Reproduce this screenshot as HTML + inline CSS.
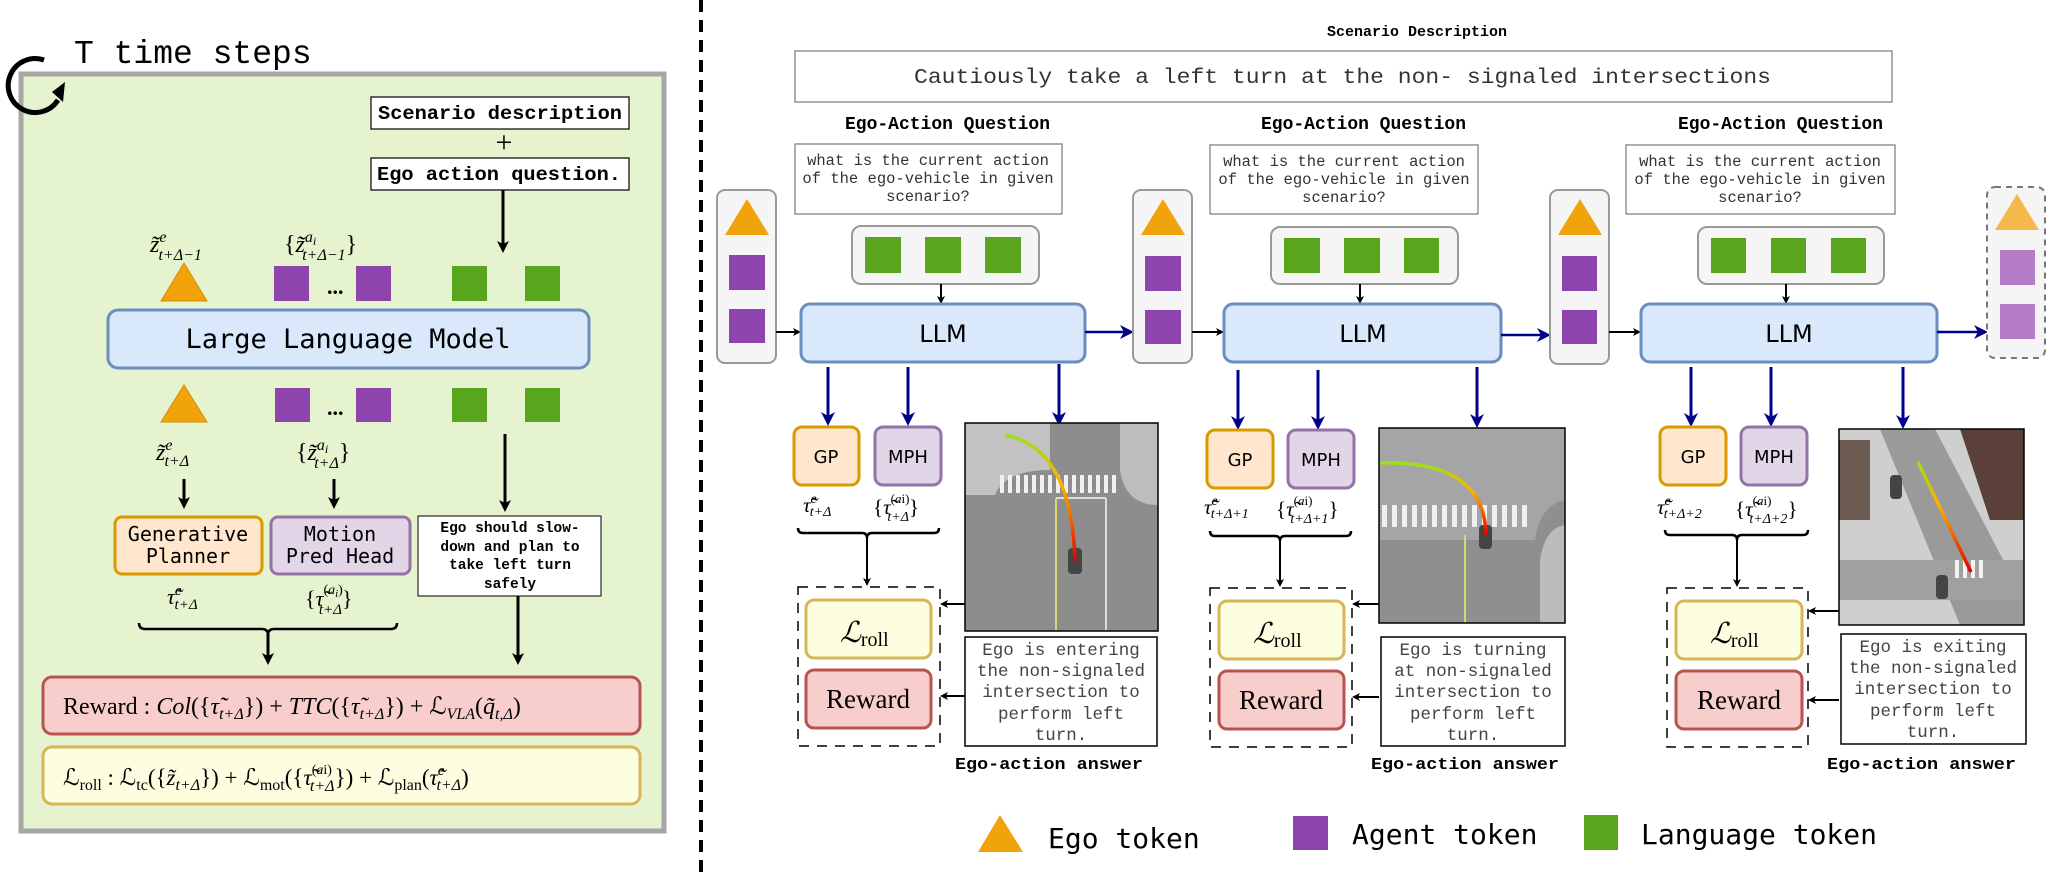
<!DOCTYPE html>
<html><head><meta charset="utf-8"><style>
html,body{margin:0;padding:0;background:#fff;}
svg{display:block;}
.mono{font-family:"DejaVu Sans Mono","Liberation Mono",monospace;}
.lm{font-family:"Liberation Mono","DejaVu Sans Mono",monospace;}
.sans{font-family:"DejaVu Sans","Liberation Sans",sans-serif;}
.ser{font-family:"Liberation Serif","DejaVu Serif",serif;}
</style></head><body>
<svg width="2048" height="878" viewBox="0 0 2048 878" xmlns="http://www.w3.org/2000/svg">
<defs>
<marker id="ab" markerWidth="8" markerHeight="8" refX="6" refY="4" orient="auto" markerUnits="userSpaceOnUse"><path d="M0,0 L8,4 L0,8 L2,4 z" fill="#000"/></marker>
<marker id="abl" markerWidth="12" markerHeight="12" refX="9" refY="6" orient="auto" markerUnits="userSpaceOnUse"><path d="M0,0 L12,6 L0,12 L3,6 z" fill="#000"/></marker>
<marker id="an" markerWidth="14" markerHeight="14" refX="10" refY="7" orient="auto" markerUnits="userSpaceOnUse"><path d="M0,0 L14,7 L0,14 L4,7 z" fill="#00008b"/></marker>
<linearGradient id="traj" x1="0" y1="0" x2="0" y2="1"><stop offset="0" stop-color="#9be01a"/><stop offset="0.4" stop-color="#ffb000"/><stop offset="1" stop-color="#e00000"/></linearGradient>
<clipPath id="c1"><rect x="965" y="423" width="193" height="208"/></clipPath>
<clipPath id="c2"><rect x="1379" y="428" width="186" height="195"/></clipPath>
<clipPath id="c3"><rect x="1839" y="429" width="185" height="196"/></clipPath>
</defs>

<!-- LEFT PANEL -->
<rect x="21" y="74" width="643" height="757" fill="#e6f3cf" stroke="#a6a6a6" stroke-width="5"/>
<path d="M44,60 A27,27 0 1 0 58,100" fill="none" stroke="#000" stroke-width="5"/>
<path d="M52,92 L65,82 L63,102 z" fill="#000"/>
<text x="74" y="63" class="lm" font-size="33">T time steps</text>

<rect x="371" y="97" width="258" height="32" fill="#fff" stroke="#000" stroke-width="1.2"/>
<text x="378" y="119" class="lm" font-size="19" font-weight="bold" textLength="244" lengthAdjust="spacingAndGlyphs">Scenario description</text>
<text x="504" y="152" class="ser" font-size="30" text-anchor="middle">+</text>
<rect x="371" y="158" width="258" height="32" fill="#fff" stroke="#000" stroke-width="1.2"/>
<text x="377" y="180" class="lm" font-size="19" font-weight="bold" textLength="244" lengthAdjust="spacingAndGlyphs">Ego action question.</text>
<line x1="503" y1="190" x2="503" y2="250" stroke="#000" stroke-width="3" marker-end="url(#abl)"/>

<text x="150" y="252" class="ser" font-size="24" font-style="italic">z̃<tspan font-size="16" dy="-10">e</tspan><tspan font-size="16" dx="-8" dy="18">t+Δ−1</tspan></text>
<text x="284" y="252" class="ser" font-size="24">{<tspan font-style="italic">z̃</tspan><tspan font-size="16" font-style="italic" dy="-10">a<tspan font-size="12" dy="3">i</tspan></tspan><tspan font-size="16" font-style="italic" dx="-14" dy="15">t+Δ−1</tspan><tspan dy="-8">}</tspan></text>
<polygon points="184,263 207,301 161,301" fill="#f0a30a" stroke="#d68f00" stroke-width="1"/>
<rect x="274" y="266" width="35" height="35" fill="#8e44ad"/>
<text x="327" y="294" class="ser" font-size="22" font-weight="bold">...</text>
<rect x="356" y="266" width="35" height="35" fill="#8e44ad"/>
<rect x="452" y="266" width="35" height="35" fill="#5aa51e"/>
<rect x="525" y="266" width="35" height="35" fill="#5aa51e"/>

<rect x="108" y="310" width="481" height="58" rx="10" fill="#dae8fc" stroke="#6c8ebf" stroke-width="3"/>
<text x="348" y="348" class="mono" font-size="27" text-anchor="middle">Large Language Model</text>

<polygon points="184,385 207,422 161,422" fill="#f0a30a" stroke="#d68f00" stroke-width="1"/>
<rect x="275" y="388" width="35" height="34" fill="#8e44ad"/>
<text x="327" y="415" class="ser" font-size="22" font-weight="bold">...</text>
<rect x="356" y="388" width="35" height="34" fill="#8e44ad"/>
<rect x="452" y="388" width="35" height="34" fill="#5aa51e"/>
<rect x="525" y="388" width="35" height="34" fill="#5aa51e"/>

<text x="156" y="460" class="ser" font-size="24" font-style="italic">z̃<tspan font-size="16" dy="-10">e</tspan><tspan font-size="16" dx="-8" dy="16">t+Δ</tspan></text>
<text x="296" y="460" class="ser" font-size="24">{<tspan font-style="italic">z̃</tspan><tspan font-size="16" font-style="italic" dy="-10">a<tspan font-size="12" dy="3">i</tspan></tspan><tspan font-size="16" font-style="italic" dx="-14" dy="15">t+Δ</tspan><tspan dy="-8">}</tspan></text>
<line x1="184" y1="479" x2="184" y2="506" stroke="#000" stroke-width="3" marker-end="url(#abl)"/>
<line x1="334" y1="479" x2="334" y2="506" stroke="#000" stroke-width="3" marker-end="url(#abl)"/>
<line x1="505" y1="434" x2="505" y2="509" stroke="#000" stroke-width="3" marker-end="url(#abl)"/>

<rect x="115" y="517" width="147" height="57" rx="7" fill="#ffe6cc" stroke="#d79b00" stroke-width="3"/>
<text x="188" y="541" class="mono" font-size="20" text-anchor="middle">Generative</text>
<text x="188" y="563" class="mono" font-size="20" text-anchor="middle">Planner</text>
<rect x="271" y="517" width="139" height="57" rx="7" fill="#e1d5e7" stroke="#9673a6" stroke-width="3"/>
<text x="340" y="541" class="mono" font-size="20" text-anchor="middle">Motion</text>
<text x="340" y="563" class="mono" font-size="20" text-anchor="middle">Pred Head</text>
<rect x="418" y="516" width="183" height="80" fill="#fff" stroke="#000" stroke-width="1"/>
<text class="lm" font-size="14.5" font-weight="bold" text-anchor="middle"><tspan x="510" y="532">Ego should slow-</tspan><tspan x="510" y="551">down and plan to</tspan><tspan x="510" y="569">take left turn</tspan><tspan x="510" y="588">safely</tspan></text>

<text x="167" y="604" class="ser" font-size="22" font-style="italic">τ̃<tspan font-size="15" dy="-9">e</tspan><tspan font-size="15" dx="-7" dy="14">t+Δ</tspan></text>
<text x="305" y="606" class="ser" font-size="22">{<tspan font-style="italic">τ̃</tspan><tspan font-size="14" dy="-12">(<tspan font-style="italic">a<tspan font-size="11" dy="3">i</tspan></tspan><tspan dy="-3">)</tspan></tspan><tspan font-size="15" font-style="italic" dx="-24" dy="20">t+Δ</tspan><tspan dy="-8">}</tspan></text>
<path d="M139,623 q0,6 6,6 H262 q6,0 6,6 q0,-6 6,-6 H391 q6,0 6,-6" fill="none" stroke="#000" stroke-width="2.5"/>
<line x1="268" y1="634" x2="268" y2="662" stroke="#000" stroke-width="3" marker-end="url(#abl)"/>
<line x1="518" y1="596" x2="518" y2="662" stroke="#000" stroke-width="3" marker-end="url(#abl)"/>

<rect x="43" y="677" width="597" height="57" rx="9" fill="#f8cecc" stroke="#b85450" stroke-width="3"/>
<text x="63" y="714" class="ser" font-size="24">Reward : <tspan font-style="italic">Col</tspan>({<tspan font-style="italic">τ̃</tspan><tspan font-size="16" font-style="italic" dy="5">t+Δ</tspan><tspan dy="-5">}) + </tspan><tspan font-style="italic">TTC</tspan>({<tspan font-style="italic">τ̃</tspan><tspan font-size="16" font-style="italic" dy="5">t+Δ</tspan><tspan dy="-5">}) + ℒ</tspan><tspan font-size="16" font-style="italic" dy="5">VLA</tspan><tspan dy="-5">(</tspan><tspan font-style="italic">q̃</tspan><tspan font-size="16" font-style="italic" dy="5">t,Δ</tspan><tspan dy="-5">)</tspan></text>
<rect x="43" y="747" width="597" height="57" rx="9" fill="#fdfde0" stroke="#d6b656" stroke-width="3"/>
<text x="63" y="785" class="ser" font-size="23">ℒ<tspan font-size="16" dy="5">roll</tspan><tspan dy="-5"> : ℒ</tspan><tspan font-size="16" dy="5">tc</tspan><tspan dy="-5">({</tspan><tspan font-style="italic">z̃</tspan><tspan font-size="16" font-style="italic" dy="5">t+Δ</tspan><tspan dy="-5">}) + ℒ</tspan><tspan font-size="16" dy="5">mot</tspan><tspan dy="-5">({</tspan><tspan font-style="italic">τ̃</tspan><tspan font-size="14" dy="-11">(<tspan font-style="italic">a</tspan>i)</tspan><tspan font-size="16" font-style="italic" dx="-22" dy="17">t+Δ</tspan><tspan dy="-6">}) + ℒ</tspan><tspan font-size="16" dy="5">plan</tspan><tspan dy="-5">(</tspan><tspan font-style="italic">τ̃</tspan><tspan font-size="15" font-style="italic" dy="-10">e</tspan><tspan font-size="16" font-style="italic" dx="-8" dy="15">t+Δ</tspan><tspan dy="-5">)</tspan></text>

<!-- divider -->
<line x1="701" y1="0" x2="701" y2="878" stroke="#000" stroke-width="4" stroke-dasharray="12,8"/>

<!-- RIGHT PANEL -->
<text x="1417" y="36" class="lm" font-size="15" font-weight="bold" text-anchor="middle">Scenario Description</text>
<rect x="795" y="51" width="1097" height="51" fill="#fff" stroke="#777" stroke-width="1.2"/>
<text x="914" y="83" class="lm" font-size="21" fill="#333" textLength="857" lengthAdjust="spacingAndGlyphs">Cautiously take a left turn at the non- signaled intersections</text>

<!-- Column 1 -->
<text x="845" y="129" class="lm" font-size="18" font-weight="bold" textLength="205" lengthAdjust="spacingAndGlyphs">Ego-Action Question</text>
<rect x="795" y="144" width="267" height="70" fill="#fff" stroke="#777" stroke-width="1.2"/>
<text class="lm" font-size="15.5" fill="#333" text-anchor="middle"><tspan x="928" y="165">what is the current action</tspan><tspan x="928" y="183">of the ego-vehicle in given</tspan><tspan x="928" y="201">scenario?</tspan></text>
<rect x="852" y="226" width="187" height="58" rx="9" fill="#f5f5f5" stroke="#999" stroke-width="2"/>
<rect x="865" y="237" width="36" height="36" fill="#5aa51e"/><rect x="925" y="237" width="36" height="36" fill="#5aa51e"/><rect x="985" y="237" width="36" height="36" fill="#5aa51e"/>
<line x1="941" y1="284" x2="941" y2="302" stroke="#000" stroke-width="2" marker-end="url(#ab)"/>

<rect x="717" y="190" width="59" height="173" rx="8" fill="#f5f5f5" stroke="#999" stroke-width="2"/>
<polygon points="747,199 769,235 725,235" fill="#f0a30a"/>
<rect x="729" y="255" width="36" height="35" fill="#8e44ad"/><rect x="729" y="309" width="36" height="34" fill="#8e44ad"/>
<line x1="776" y1="332" x2="799" y2="332" stroke="#000" stroke-width="2" marker-end="url(#ab)"/>

<rect x="801" y="304" width="284" height="58" rx="9" fill="#dae8fc" stroke="#6c8ebf" stroke-width="3"/>
<text x="943" y="342" class="sans" font-size="24" text-anchor="middle">LLM</text>
<line x1="1085" y1="332" x2="1130" y2="332" stroke="#00008b" stroke-width="2.5" marker-end="url(#an)"/>

<line x1="828" y1="367" x2="828" y2="422" stroke="#00008b" stroke-width="3" marker-end="url(#an)"/>
<line x1="908" y1="367" x2="908" y2="422" stroke="#00008b" stroke-width="3" marker-end="url(#an)"/>
<line x1="1059" y1="364" x2="1059" y2="422" stroke="#00008b" stroke-width="3" marker-end="url(#an)"/>

<rect x="794" y="427" width="65" height="58" rx="8" fill="#ffe6cc" stroke="#d79b00" stroke-width="3"/>
<text x="826" y="463" class="sans" font-size="18" text-anchor="middle">GP</text>
<rect x="875" y="427" width="66" height="58" rx="8" fill="#e1d5e7" stroke="#9673a6" stroke-width="3"/>
<text x="908" y="463" class="sans" font-size="18" text-anchor="middle">MPH</text>
<text x="803" y="512" class="ser" font-size="21" font-style="italic">τ̃<tspan font-size="14" dy="-9">e</tspan><tspan font-size="14" dx="-7" dy="13">t+Δ</tspan></text>
<text x="873" y="514" class="ser" font-size="21">{<tspan font-style="italic">τ̃</tspan><tspan font-size="13" dy="-11">(<tspan font-style="italic">a</tspan>i)</tspan><tspan font-size="14" font-style="italic" dx="-22" dy="18">t+Δ</tspan><tspan dy="-7">}</tspan></text>
<path d="M798,528 q0,5 5,5 H862 q5,0 5,5 q0,-5 5,-5 H934 q5,0 5,-5" fill="none" stroke="#000" stroke-width="2.5"/>
<line x1="867" y1="538" x2="867" y2="584" stroke="#000" stroke-width="2" marker-end="url(#ab)"/>
<rect x="798" y="587" width="142" height="159" fill="none" stroke="#000" stroke-width="1.5" stroke-dasharray="10,8"/>
<rect x="806" y="600" width="125" height="58" rx="8" fill="#fdfde0" stroke="#d6b656" stroke-width="3"/>
<text x="840" y="642" class="ser" font-size="29" font-style="italic">ℒ<tspan font-size="20" font-style="normal" dy="4">roll</tspan></text>
<rect x="806" y="670" width="125" height="58" rx="8" fill="#f8cecc" stroke="#b85450" stroke-width="3"/>
<text x="868" y="708" class="ser" font-size="27" text-anchor="middle">Reward</text>

<g clip-path="url(#c1)">
<rect x="965" y="423" width="193" height="208" fill="#8d8d8d"/>
<path d="M965,423 H1050 V470 Q1005,470 995,495 H965z" fill="#c2c2c2"/>
<path d="M1158,423 V505 Q1125,505 1120,470 V423z" fill="#bdbdbd"/>
<g fill="#f0f0f0"><rect x="1000" y="475" width="4" height="18"/><rect x="1008" y="475" width="4" height="18"/><rect x="1016" y="475" width="4" height="18"/><rect x="1024" y="475" width="4" height="18"/><rect x="1032" y="475" width="4" height="18"/><rect x="1040" y="475" width="4" height="18"/><rect x="1048" y="475" width="4" height="18"/><rect x="1056" y="475" width="4" height="18"/><rect x="1064" y="475" width="4" height="18"/><rect x="1072" y="475" width="4" height="18"/><rect x="1080" y="475" width="4" height="18"/><rect x="1088" y="475" width="4" height="18"/><rect x="1096" y="475" width="4" height="18"/><rect x="1104" y="475" width="4" height="18"/><rect x="1112" y="475" width="4" height="18"/></g>
<line x1="1056" y1="498" x2="1056" y2="631" stroke="#d8d870" stroke-width="2"/>
<line x1="1106" y1="498" x2="1106" y2="631" stroke="#ddd" stroke-width="2"/>
<line x1="1056" y1="498" x2="1106" y2="498" stroke="#ddd" stroke-width="2"/>
<rect x="1068" y="548" width="14" height="26" rx="4" fill="#444"/>
<path d="M1005,435 Q1072,448 1075,562" fill="none" stroke="url(#traj)" stroke-width="3.5"/>
</g>
<rect x="965" y="423" width="193" height="208" fill="none" stroke="#000" stroke-width="1.5"/>
<line x1="965" y1="604" x2="942" y2="604" stroke="#000" stroke-width="2" marker-end="url(#ab)"/>
<line x1="965" y1="696" x2="942" y2="696" stroke="#000" stroke-width="2" marker-end="url(#ab)"/>
<rect x="965" y="637" width="192" height="109" fill="#fff" stroke="#000" stroke-width="1.5"/>
<text class="lm" font-size="17.5" fill="#444" text-anchor="middle"><tspan x="1061" y="655">Ego is entering</tspan><tspan x="1061" y="676">the non-signaled</tspan><tspan x="1061" y="697">intersection to</tspan><tspan x="1061" y="719">perform left</tspan><tspan x="1061" y="740">turn.</tspan></text>
<text x="955" y="769" class="lm" font-size="17" font-weight="bold" textLength="188" lengthAdjust="spacingAndGlyphs">Ego-action answer</text>

<!-- Column 2 -->
<rect x="1133" y="190" width="59" height="173" rx="8" fill="#f5f5f5" stroke="#999" stroke-width="2"/>
<polygon points="1163,199 1185,235 1141,235" fill="#f0a30a"/>
<rect x="1145" y="256" width="36" height="35" fill="#8e44ad"/><rect x="1145" y="310" width="36" height="34" fill="#8e44ad"/>
<line x1="1192" y1="332" x2="1222" y2="332" stroke="#000" stroke-width="2" marker-end="url(#ab)"/>

<text x="1261" y="129" class="lm" font-size="18" font-weight="bold" textLength="205" lengthAdjust="spacingAndGlyphs">Ego-Action Question</text>
<rect x="1210" y="145" width="268" height="69" fill="#fff" stroke="#777" stroke-width="1.2"/>
<text class="lm" font-size="15.5" fill="#333" text-anchor="middle"><tspan x="1344" y="166">what is the current action</tspan><tspan x="1344" y="184">of the ego-vehicle in given</tspan><tspan x="1344" y="202">scenario?</tspan></text>
<rect x="1271" y="227" width="187" height="57" rx="9" fill="#f5f5f5" stroke="#999" stroke-width="2"/>
<rect x="1284" y="238" width="36" height="35" fill="#5aa51e"/><rect x="1344" y="238" width="36" height="35" fill="#5aa51e"/><rect x="1404" y="238" width="35" height="35" fill="#5aa51e"/>
<line x1="1360" y1="284" x2="1360" y2="302" stroke="#000" stroke-width="2" marker-end="url(#ab)"/>
<rect x="1224" y="304" width="277" height="58" rx="9" fill="#dae8fc" stroke="#6c8ebf" stroke-width="3"/>
<text x="1363" y="342" class="sans" font-size="24" text-anchor="middle">LLM</text>
<line x1="1501" y1="335" x2="1547" y2="335" stroke="#00008b" stroke-width="2.5" marker-end="url(#an)"/>
<line x1="1238" y1="370" x2="1238" y2="426" stroke="#00008b" stroke-width="3" marker-end="url(#an)"/>
<line x1="1318" y1="370" x2="1318" y2="426" stroke="#00008b" stroke-width="3" marker-end="url(#an)"/>
<line x1="1477" y1="367" x2="1477" y2="424" stroke="#00008b" stroke-width="3" marker-end="url(#an)"/>

<rect x="1207" y="430" width="66" height="58" rx="8" fill="#ffe6cc" stroke="#d79b00" stroke-width="3"/>
<text x="1240" y="466" class="sans" font-size="18" text-anchor="middle">GP</text>
<rect x="1288" y="430" width="66" height="58" rx="8" fill="#e1d5e7" stroke="#9673a6" stroke-width="3"/>
<text x="1321" y="466" class="sans" font-size="18" text-anchor="middle">MPH</text>
<text x="1204" y="514" class="ser" font-size="21" font-style="italic">τ̃<tspan font-size="14" dy="-9">e</tspan><tspan font-size="14" dx="-7" dy="13">t+Δ+1</tspan></text>
<text x="1276" y="516" class="ser" font-size="21">{<tspan font-style="italic">τ̃</tspan><tspan font-size="13" dy="-11">(<tspan font-style="italic">a</tspan>i)</tspan><tspan font-size="14" font-style="italic" dx="-22" dy="18">t+Δ+1</tspan><tspan dy="-7">}</tspan></text>
<path d="M1210,531 q0,5 5,5 H1275 q5,0 5,5 q0,-5 5,-5 H1346 q5,0 5,-5" fill="none" stroke="#000" stroke-width="2.5"/>
<line x1="1280" y1="541" x2="1280" y2="585" stroke="#000" stroke-width="2" marker-end="url(#ab)"/>
<rect x="1210" y="588" width="142" height="159" fill="none" stroke="#000" stroke-width="1.5" stroke-dasharray="10,8"/>
<rect x="1219" y="601" width="125" height="58" rx="8" fill="#fdfde0" stroke="#d6b656" stroke-width="3"/>
<text x="1253" y="643" class="ser" font-size="29" font-style="italic">ℒ<tspan font-size="20" font-style="normal" dy="4">roll</tspan></text>
<rect x="1219" y="671" width="125" height="58" rx="8" fill="#f8cecc" stroke="#b85450" stroke-width="3"/>
<text x="1281" y="709" class="ser" font-size="27" text-anchor="middle">Reward</text>

<g clip-path="url(#c2)">
<rect x="1379" y="428" width="186" height="195" fill="#8f8f8f"/>
<path d="M1379,428 H1565 V500 Q1540,505 1535,540 H1379z" fill="#a5a5a5"/>
<path d="M1565,525 Q1545,528 1540,560 V623 H1565z" fill="#bcbcbc"/>
<g fill="#f0f0f0"><rect x="1382" y="505" width="5" height="22"/><rect x="1392" y="505" width="5" height="22"/><rect x="1402" y="505" width="5" height="22"/><rect x="1412" y="505" width="5" height="22"/><rect x="1422" y="505" width="5" height="22"/><rect x="1432" y="505" width="5" height="22"/><rect x="1442" y="505" width="5" height="22"/><rect x="1452" y="505" width="5" height="22"/><rect x="1462" y="505" width="5" height="22"/><rect x="1472" y="505" width="5" height="22"/><rect x="1482" y="505" width="5" height="22"/><rect x="1492" y="505" width="5" height="22"/><rect x="1502" y="505" width="5" height="22"/><rect x="1512" y="505" width="5" height="22"/><rect x="1522" y="505" width="5" height="22"/></g>
<line x1="1465" y1="535" x2="1465" y2="623" stroke="#d8d870" stroke-width="2"/>
<rect x="1479" y="525" width="13" height="24" rx="4" fill="#444"/>
<path d="M1380,463 Q1485,460 1486,535" fill="none" stroke="url(#traj)" stroke-width="3.5"/>
</g>
<rect x="1379" y="428" width="186" height="195" fill="none" stroke="#000" stroke-width="1.5"/>
<line x1="1379" y1="604" x2="1354" y2="604" stroke="#000" stroke-width="2" marker-end="url(#ab)"/>
<line x1="1379" y1="697" x2="1354" y2="697" stroke="#000" stroke-width="2" marker-end="url(#ab)"/>
<rect x="1381" y="637" width="184" height="109" fill="#fff" stroke="#000" stroke-width="1.5"/>
<text class="lm" font-size="17.5" fill="#444" text-anchor="middle"><tspan x="1473" y="655">Ego is turning</tspan><tspan x="1473" y="676">at non-signaled</tspan><tspan x="1473" y="697">intersection to</tspan><tspan x="1473" y="719">perform left</tspan><tspan x="1473" y="740">turn.</tspan></text>
<text x="1371" y="769" class="lm" font-size="17" font-weight="bold" textLength="188" lengthAdjust="spacingAndGlyphs">Ego-action answer</text>

<!-- Column 3 -->
<rect x="1550" y="190" width="59" height="174" rx="8" fill="#f5f5f5" stroke="#999" stroke-width="2"/>
<polygon points="1580,199 1602,235 1558,235" fill="#f0a30a"/>
<rect x="1562" y="256" width="35" height="35" fill="#8e44ad"/><rect x="1562" y="310" width="35" height="34" fill="#8e44ad"/>
<line x1="1609" y1="332" x2="1639" y2="332" stroke="#000" stroke-width="2" marker-end="url(#ab)"/>

<text x="1678" y="129" class="lm" font-size="18" font-weight="bold" textLength="205" lengthAdjust="spacingAndGlyphs">Ego-Action Question</text>
<rect x="1626" y="145" width="269" height="69" fill="#fff" stroke="#777" stroke-width="1.2"/>
<text class="lm" font-size="15.5" fill="#333" text-anchor="middle"><tspan x="1760" y="166">what is the current action</tspan><tspan x="1760" y="184">of the ego-vehicle in given</tspan><tspan x="1760" y="202">scenario?</tspan></text>
<rect x="1698" y="227" width="186" height="57" rx="9" fill="#f5f5f5" stroke="#999" stroke-width="2"/>
<rect x="1711" y="238" width="35" height="35" fill="#5aa51e"/><rect x="1771" y="238" width="35" height="35" fill="#5aa51e"/><rect x="1831" y="238" width="35" height="35" fill="#5aa51e"/>
<line x1="1786" y1="284" x2="1786" y2="302" stroke="#000" stroke-width="2" marker-end="url(#ab)"/>
<rect x="1641" y="304" width="296" height="58" rx="9" fill="#dae8fc" stroke="#6c8ebf" stroke-width="3"/>
<text x="1789" y="342" class="sans" font-size="24" text-anchor="middle">LLM</text>
<line x1="1937" y1="332" x2="1984" y2="332" stroke="#00008b" stroke-width="2.5" marker-end="url(#an)"/>
<line x1="1691" y1="367" x2="1691" y2="423" stroke="#00008b" stroke-width="3" marker-end="url(#an)"/>
<line x1="1771" y1="367" x2="1771" y2="423" stroke="#00008b" stroke-width="3" marker-end="url(#an)"/>
<line x1="1903" y1="367" x2="1903" y2="425" stroke="#00008b" stroke-width="3" marker-end="url(#an)"/>

<rect x="1660" y="427" width="66" height="58" rx="8" fill="#ffe6cc" stroke="#d79b00" stroke-width="3"/>
<text x="1693" y="463" class="sans" font-size="18" text-anchor="middle">GP</text>
<rect x="1741" y="427" width="66" height="58" rx="8" fill="#e1d5e7" stroke="#9673a6" stroke-width="3"/>
<text x="1774" y="463" class="sans" font-size="18" text-anchor="middle">MPH</text>
<text x="1657" y="514" class="ser" font-size="21" font-style="italic">τ̃<tspan font-size="14" dy="-9">e</tspan><tspan font-size="14" dx="-7" dy="13">t+Δ+2</tspan></text>
<text x="1735" y="516" class="ser" font-size="21">{<tspan font-style="italic">τ̃</tspan><tspan font-size="13" dy="-11">(<tspan font-style="italic">a</tspan>i)</tspan><tspan font-size="14" font-style="italic" dx="-22" dy="18">t+Δ+2</tspan><tspan dy="-7">}</tspan></text>
<path d="M1665,530 q0,5 5,5 H1732 q5,0 5,5 q0,-5 5,-5 H1803 q5,0 5,-5" fill="none" stroke="#000" stroke-width="2.5"/>
<line x1="1737" y1="540" x2="1737" y2="585" stroke="#000" stroke-width="2" marker-end="url(#ab)"/>
<rect x="1667" y="588" width="141" height="159" fill="none" stroke="#000" stroke-width="1.5" stroke-dasharray="10,8"/>
<rect x="1676" y="601" width="126" height="58" rx="8" fill="#fdfde0" stroke="#d6b656" stroke-width="3"/>
<text x="1710" y="643" class="ser" font-size="29" font-style="italic">ℒ<tspan font-size="20" font-style="normal" dy="4">roll</tspan></text>
<rect x="1676" y="671" width="126" height="58" rx="8" fill="#f8cecc" stroke="#b85450" stroke-width="3"/>
<text x="1739" y="709" class="ser" font-size="27" text-anchor="middle">Reward</text>

<g clip-path="url(#c3)">
<rect x="1839" y="429" width="185" height="196" fill="#cfcfcf"/>
<path d="M1880,429 H1935 L2024,600 V625 H1960 Z" fill="#9a9a9a"/>
<path d="M1839,560 H2024 V600 H1839z" fill="#a0a0a0"/>
<path d="M1960,429 H2024 V520 H1990 Z" fill="#5a4038"/>
<path d="M1839,440 H1870 V520 H1839z" fill="#6b5a50"/>
<g fill="#f2f2f2"><rect x="1955" y="560" width="4" height="18"/><rect x="1963" y="560" width="4" height="18"/><rect x="1971" y="560" width="4" height="18"/><rect x="1979" y="560" width="4" height="18"/></g>
<rect x="1890" y="475" width="12" height="24" rx="4" fill="#444"/>
<rect x="1936" y="575" width="12" height="24" rx="4" fill="#444"/>
<path d="M1918,462 L1971,572" fill="none" stroke="url(#traj)" stroke-width="3.5"/>
</g>
<rect x="1839" y="429" width="185" height="196" fill="none" stroke="#000" stroke-width="1.5"/>
<line x1="1839" y1="611" x2="1810" y2="611" stroke="#000" stroke-width="2" marker-end="url(#ab)"/>
<line x1="1839" y1="700" x2="1810" y2="700" stroke="#000" stroke-width="2" marker-end="url(#ab)"/>
<rect x="1841" y="634" width="185" height="110" fill="#fff" stroke="#000" stroke-width="1.5"/>
<text class="lm" font-size="17.5" fill="#444" text-anchor="middle"><tspan x="1933" y="652">Ego is exiting</tspan><tspan x="1933" y="673">the non-signaled</tspan><tspan x="1933" y="694">intersection to</tspan><tspan x="1933" y="716">perform left</tspan><tspan x="1933" y="737">turn.</tspan></text>
<text x="1827" y="769" class="lm" font-size="17" font-weight="bold" textLength="189" lengthAdjust="spacingAndGlyphs">Ego-action answer</text>

<!-- Column 4 (faded) -->
<rect x="1987" y="187" width="58" height="171" rx="8" fill="#f5f5f5" stroke="#777" stroke-width="2" stroke-dasharray="6,5"/>
<polygon points="2017,194 2039,230 1995,230" fill="#f4b94a"/>
<rect x="2000" y="250" width="35" height="35" fill="#b57dc8"/><rect x="2000" y="304" width="35" height="35" fill="#b57dc8"/>

<!-- Legend -->
<polygon points="1000,815 1023,852 978,852" fill="#f0a30a"/>
<text x="1048" y="848" class="mono" font-size="28">Ego token</text>
<rect x="1293" y="816" width="35" height="34" fill="#8e44ad"/>
<text x="1352" y="844" class="mono" font-size="28">Agent token</text>
<rect x="1584" y="815" width="34" height="35" fill="#5aa51e"/>
<text x="1641" y="844" class="mono" font-size="28">Language token</text>
</svg>
</body></html>
